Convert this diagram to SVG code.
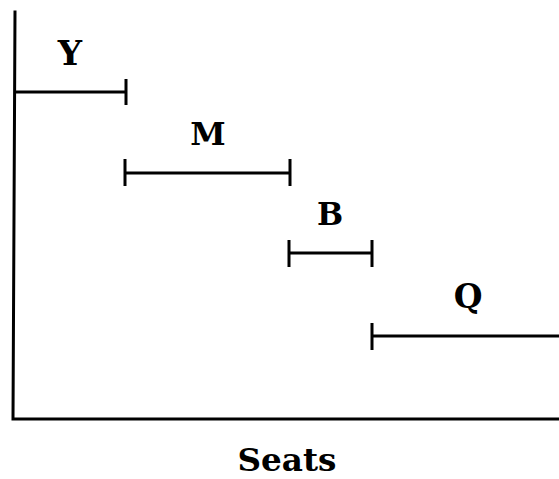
<svg xmlns="http://www.w3.org/2000/svg" width="559" height="479" viewBox="0 0 559 479">
<style>
.ax{stroke:#000;stroke-width:3;fill:none;stroke-linecap:square}
.seg{stroke:#000;stroke-width:3;fill:none}
.lbl{font-family:"DejaVu Serif","Liberation Serif",serif;font-weight:bold;fill:#000;text-anchor:middle}
</style>
<rect width="559" height="479" fill="#fff"/>
<g id="axes">
<path class="ax" d="M15,12 L13,419 L559,419"/>
<text class="lbl" x="287" y="471" font-size="32" textLength="99" lengthAdjust="spacingAndGlyphs">Seats</text>
</g>
<g id="connectors">
<g id="Y-range"><path class="seg" d="M14,92 H126 M126,79 V105"/></g>
<g id="M-range"><path class="seg" d="M125,173 H290 M125,159 V186 M290,159 V186"/></g>
<g id="B-range"><path class="seg" d="M289,253 H372 M289,240 V267 M372,240 V267"/></g>
<g id="Q-range"><path class="seg" d="M372,336 H559 M372,323 V350"/></g>
</g>
<g id="node-Y"><text class="lbl" x="70" y="65" font-size="34">Y</text></g>
<g id="node-M"><text class="lbl" x="208" y="145" font-size="32">M</text></g>
<g id="node-B"><text class="lbl" x="330" y="225" font-size="31">B</text></g>
<g id="node-Q"><text class="lbl" x="468" y="308" font-size="33">Q</text></g>
</svg>
